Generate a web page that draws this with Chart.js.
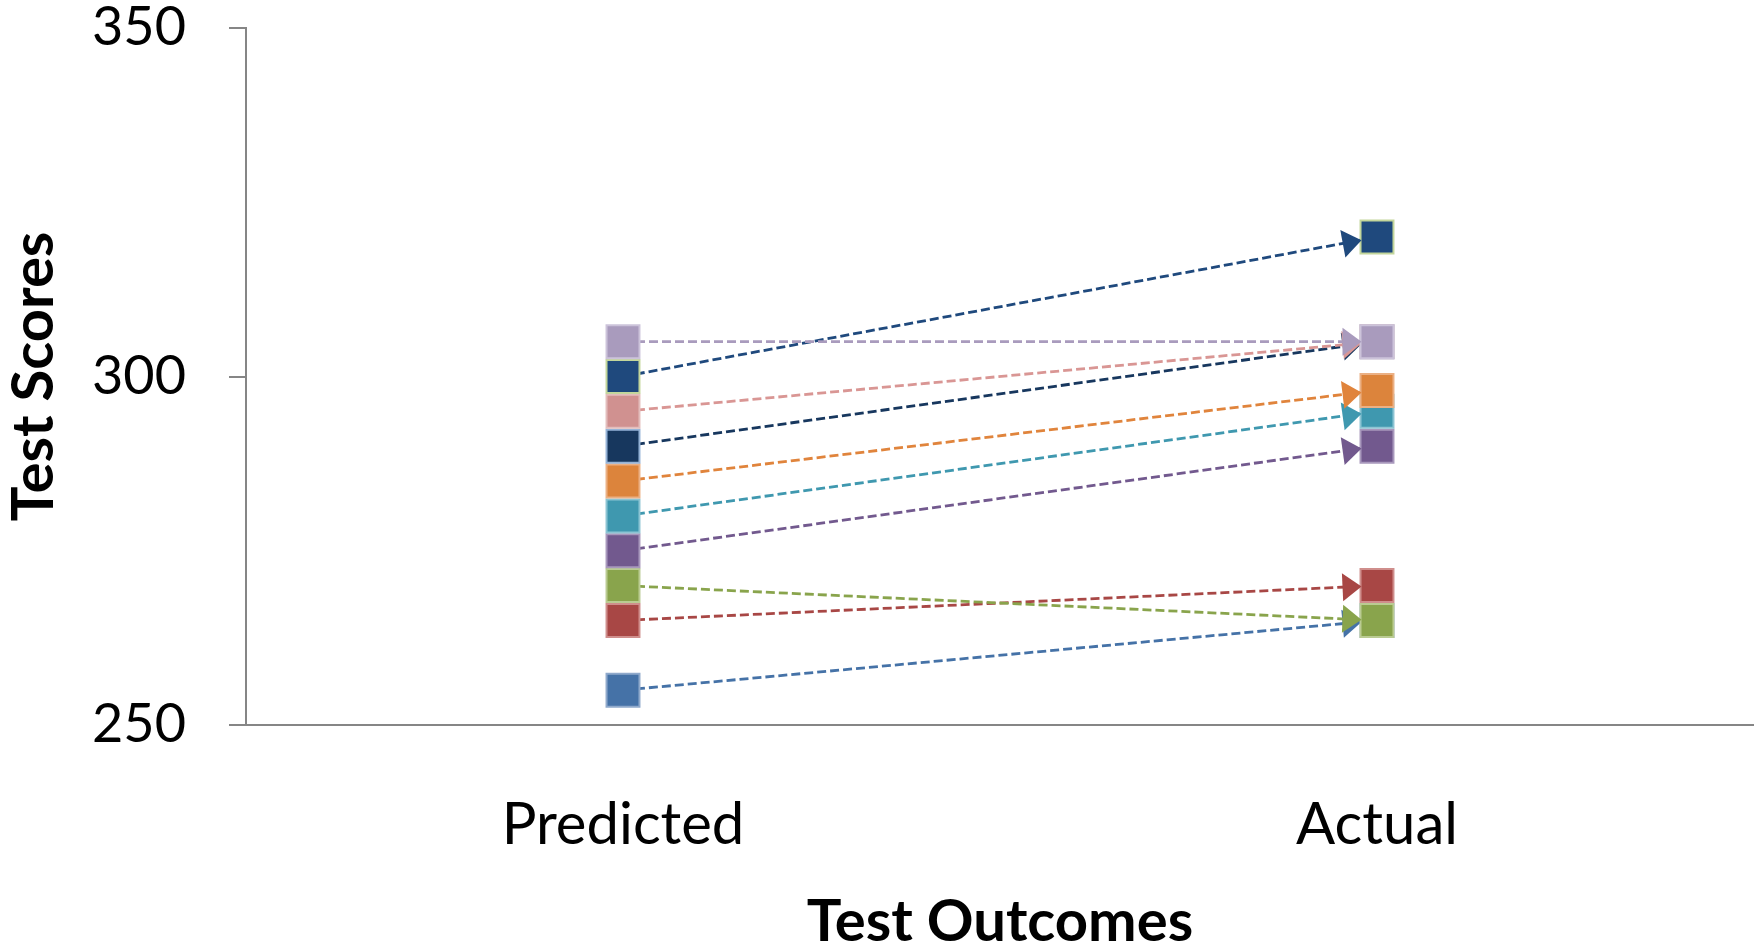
<!DOCTYPE html>
<html><head><meta charset="utf-8">
<script src="https://cdn.jsdelivr.net/npm/chart.js@4"></script>
<style>html,body{margin:0;padding:0;background:#fff;overflow:hidden}#wrap{width:1754px;height:951px}</style>
</head><body><div id="wrap"><canvas id="c" width="1754" height="951"></canvas></div>
<script>
// ---- data ----
const categories = ['Predicted', 'Actual'];
const yTicks = [250, 300, 350];
// series listed top-most first (Chart.js draws dataset 0 last)
const lavenderScores = [305, 305];
const darkBlueScores = [300, 320];
const pinkScores     = [295, 305];
const navyScores     = [290, 305];
const orangeScores   = [285, 298];
const tealScores     = [280, 295];
const purpleScores   = [275, 290];
const greenScores    = [270, 265];
const redScores      = [265, 270];
const blueScores     = [255, 265];

const seriesList = [
  {data: lavenderScores, fill: '#A99BBD', border: '#CCC3DA', line: '#A99BBD'},
  {data: darkBlueScores, fill: '#1F497D', border: '#C3D69B', line: '#1F497D'},
  {data: pinkScores,     fill: '#D09190', border: '#E3BDBC', line: '#D99694'},
  {data: navyScores,     fill: '#17375E', border: '#95B3D7', line: '#17375E'},
  {data: orangeScores,   fill: '#DC843C', border: '#EBB084', line: '#E0843C'},
  {data: tealScores,     fill: '#3F98AF', border: '#8CC4D3', line: '#3F98AF'},
  {data: purpleScores,   fill: '#72598E', border: '#A898BC', line: '#72598E'},
  {data: greenScores,    fill: '#89A44C', border: '#BACB92', line: '#89A44C'},
  {data: redScores,      fill: '#A84745', border: '#CF8E8C', line: '#A84745'},
  {data: blueScores,     fill: '#4572A7', border: '#8FA9CB', line: '#4572A7'}
];

const arrowPlugin = {
  id: 'arrows',
  afterDatasetDraw(chart, args) {
    const meta = args.meta;
    const pts = meta.data;
    if (pts.length < 2) return;
    const ds = chart.data.datasets[args.index];
    const p0 = pts[0], p1 = pts[1];
    const half = ds.pointRadius * Math.SQRT1_2 + ds.pointBorderWidth / 2;
    const dx = p1.x - p0.x, dy = p1.y - p0.y;
    const t = half / dx;
    const tipX = p1.x - dx * t + 2, tipY = p1.y - dy * t;
    const len = Math.hypot(dx, dy);
    const ux = dx / len, uy = dy / len;
    const L = 19, W = 14;
    const bx = tipX - ux * L, by = tipY - uy * L;
    const ctx = chart.ctx;
    ctx.save();
    ctx.fillStyle = ds.borderColor;
    ctx.beginPath();
    ctx.moveTo(tipX, tipY);
    ctx.lineTo(bx - uy * W, by + ux * W);
    ctx.lineTo(bx + uy * W, by - ux * W);
    ctx.closePath();
    ctx.fill();
    ctx.restore();
  }
};

const axisGray = '#868686';
new Chart(document.getElementById('c'), {
  type: 'line',
  data: {
    labels: categories,
    datasets: seriesList.map((s, i) => ({
      label: 'Series ' + (i + 1),
      data: s.data,
      borderColor: s.line,
      borderWidth: 2.8,
      borderDash: [9, 4],
      pointStyle: 'rect',
      pointRadius: 23.3,
      pointHoverRadius: 23.3,
      pointBackgroundColor: s.fill,
      pointBorderColor: s.border,
      pointBorderWidth: 2,
      fill: false,
      tension: 0
    }))
  },
  options: {
    responsive: false,
    animation: false,
    devicePixelRatio: 1,
    layout: {autoPadding: false, padding: {top: 28, left: 0, right: 0, bottom: 0}},
    plugins: {legend: {display: false}, tooltip: {enabled: false}},
    events: [],
    scales: {
      x: {
        offset: true,
        grid: {display: false, drawTicks: false},
        border: {color: axisGray, width: 2},
        ticks: {color: '#000', font: {family: 'Lato', size: 58}, padding: 65, maxRotation: 0},
        title: {display: true, text: 'Test Outcomes', color: '#000',
                font: {family: 'Lato', size: 58, weight: 'bold', lineHeight: 1}, padding: {top: 0, bottom: 0}},
        afterFit(s) { s.height = 226; s.paddingLeft = 0; s.paddingRight = 0; }
      },
      y: {
        min: 250, max: 350,
        afterBuildTicks(s) { s.ticks = yTicks.map(v => ({value: v})); },
        grid: {drawOnChartArea: false, drawTicks: true, tickLength: 17, color: axisGray, lineWidth: 2},
        border: {color: axisGray, width: 2},
        ticks: {color: '#000', font: {family: 'Lato', size: 54}, padding: 43},
        title: {display: true, text: 'Test Scores', color: '#000',
                font: {family: 'Lato', size: 58, weight: 'bold', lineHeight: 1}, padding: {top: 5, bottom: 0}},
        afterFit(s) { s.width = 246; s.paddingTop = 0; s.paddingBottom = 0; }
      }
    }
  },
  plugins: [arrowPlugin]
});
</script>
</body></html>
